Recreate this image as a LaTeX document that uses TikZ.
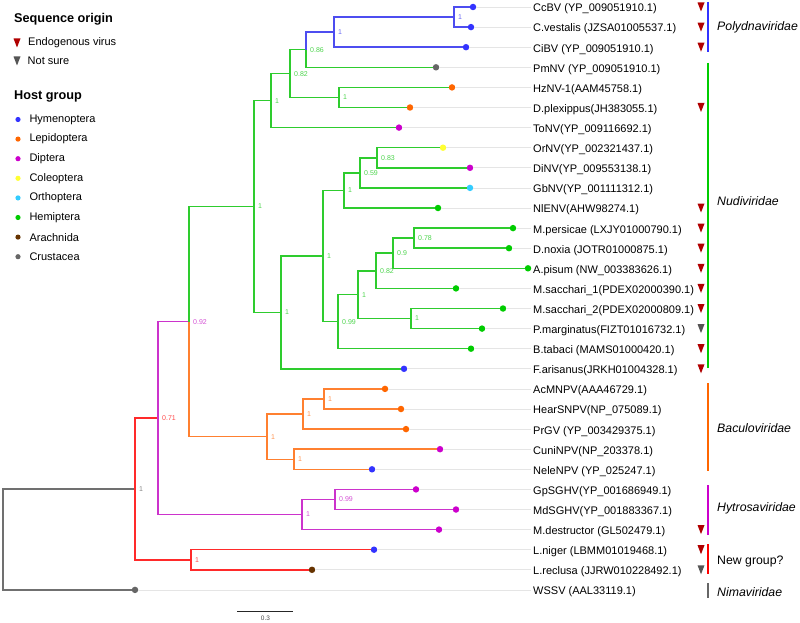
\documentclass[tikz,border=0pt]{standalone}
\usepackage{fontspec}
\setmainfont{Liberation Sans}

% host colours (tip dots)
\definecolor{hyme}{HTML}{3333FF}
\definecolor{lepi}{HTML}{FF6600}
\definecolor{dipt}{HTML}{CC00CC}
\definecolor{cole}{HTML}{FFFF33}
\definecolor{orth}{HTML}{33CCFF}
\definecolor{hemi}{HTML}{00CC00}
\definecolor{arac}{HTML}{663300}
\definecolor{crus}{HTML}{666666}
% sequence origin
\definecolor{endo}{HTML}{B00000}
\definecolor{unsure}{HTML}{555555}
% clade colours (branches)
\definecolor{cPoly}{HTML}{4D4DF0}
\definecolor{cNudi}{HTML}{2ECC2E}
\definecolor{cBacu}{HTML}{FF8030}
\definecolor{cHytr}{HTML}{CC33CC}
\definecolor{cNew}{HTML}{FF2A2A}
\definecolor{cNima}{HTML}{707070}

\begin{document}
\begin{tikzpicture}[x=1pt, y=-1pt,
    branch/.style={line width=1.5pt},
    leader/.style={draw=black!10, line width=0.7pt},
    tipdot/.style={circle, inner sep=0pt, minimum size=6.5pt},
    legdot/.style={circle, inner sep=0pt, minimum size=5.2pt},
    tiplabel/.style={anchor=base west, inner sep=0pt, font=\fontsize{11}{13}\selectfont},
    support/.style={anchor=west, inner sep=0pt, xshift=4pt, font=\fontsize{7}{8}\selectfont},
    famlabel/.style={anchor=west, inner sep=0pt, font=\fontsize{12.3}{14}\selectfont\itshape},
    header/.style={anchor=west, inner sep=0pt, font=\fontsize{12.7}{15}\selectfont\bfseries},
    legtext/.style={anchor=west, inner sep=0pt, font=\fontsize{11}{13}\selectfont},
    downtri/.pic={\fill (-3.5,-4.5) -- (3.5,-4.5) -- (0,4.5) -- cycle;}]
    \path[use as bounding box] (0,0) rectangle (800,623);

    % Legend
    \node[header] (seqhead) at (14,19) {Sequence origin};
    \pic[endo] at (17,43) {downtri};
    \node[legtext] (endolab) at (28,43) {Endogenous virus};
    \pic[unsure] at (17,61) {downtri};
    \node[legtext] (unsurelab) at (27.5,61) {Not sure};
    \node[header] (hosthead) at (14,96.5) {Host group};
    \foreach \hc/\txt [count=\i] in {hyme/Hymenoptera, lepi/Lepidoptera,
        dipt/Diptera, cole/Coleoptera, orth/Orthoptera, hemi/Hemiptera,
        arac/Arachnida, crus/Crustacea}
    {
      \node[legdot, fill=\hc] (d\i) at (18,{119.5+19.6*(\i-1)}) {};
      \node[legtext] (h\i) at (29.3,{119.5+19.6*(\i-1)}) {\txt};
    }

    % Tips
    \foreach \nm/\yy/\xx/\hc/\txt in {
    CcBV/0/473/hyme/CcBV (YP\_009051910.1),
    Cv/1/471/hyme/C.vestalis (JZSA01005537.1),
    CiBV/2/466/hyme/CiBV (YP\_009051910.1),
    PmNV/3/436/crus/PmNV (YP\_009051910.1),
    HzNV/4/452/lepi/HzNV-1(AAM45758.1),
    Dp/5/410/lepi/D.plexippus(JH383055.1),
    ToNV/6/399/dipt/ToNV(YP\_009116692.1),
    OrNV/7/443/cole/OrNV(YP\_002321437.1),
    DiNV/8/470/dipt/DiNV(YP\_009553138.1),
    GbNV/9/470/orth/GbNV(YP\_001111312.1),
    NlENV/10/438/hemi/NlENV(AHW98274.1),
    Mp/11/513/hemi/M.persicae (LXJY01000790.1),
    Dn/12/509/hemi/D.noxia (JOTR01000875.1),
    Ap/13/528/hemi/A.pisum (NW\_003383626.1),
    Msa/14/456/hemi/M.sacchari\_1(PDEX02000390.1),
    Msb/15/503/hemi/M.sacchari\_2(PDEX02000809.1),
    Pmg/16/482/hemi/P.marginatus(FIZT01016732.1),
    Bt/17/471/hemi/B.tabaci (MAMS01000420.1),
    Fa/18/404/hyme/F.arisanus(JRKH01004328.1),
    AcMNPV/19/385/lepi/AcMNPV(AAA46729.1),
    HearSNPV/20/401/lepi/HearSNPV(NP\_075089.1),
    PrGV/21/406/lepi/PrGV (YP\_003429375.1),
    CuniNPV/22/440/dipt/CuniNPV(NP\_203378.1),
    NeleNPV/23/372/hyme/NeleNPV (YP\_025247.1),
    GpSGHV/24/416/dipt/GpSGHV(YP\_001686949.1),
    MdSGHV/25/456/dipt/MdSGHV(YP\_001883367.1),
    Md/26/439/dipt/M.destructor (GL502479.1),
    Ln/27/374/hyme/L.niger (LBMM01019468.1),
    Lr/28/312/arac/L.reclusa (JJRW010228492.1),
    WSSV/29/135/crus/WSSV (AAL33119.1)}
    {
      \node[tipdot, fill=\hc] (t\nm) at (\xx,{7+20.1*\yy}) {};
      \node[tiplabel] (l\nm) at (533,{11.9+20.1*\yy}) {\txt};
      \draw[leader] (t\nm) -- ([xshift=-2pt]t\nm -| l\nm.west);
    }

    % Inner nodes
    \foreach \nd/\xx/\yy in {
    root/3/539.4, n1/135/488.9, n2/158/418.1, n3/189/321.6,
    n4/254/206.5, n5/271/100.6, n6/290/73.6, n7/306/49.7,
    n8/334/32.1, n9/454/17.05, n10/339/97.45, n11/281/312.4,
    n12/323/256.05, n13/344/190.4, n14/360/172.8, n15/377/157.75,
    n16/338/321.7, n17/358/294.7, n18/376/270.8, n19/393/253.2,
    n20/414/238.15, n21/411/318.55,
    b1/267/436.6, b2/303/414.0, b3/324/398.95, b4/294/459.25,
    h1/302/514.5, h2/335/499.45, g1/191/559.75}
    {
      \coordinate (\nd) at (\xx,\yy);
    }

    % Branches
    \foreach \pa/\ch/\cl in {
    root/n1/cNima, root/tWSSV/cNima,
    n1/n2/cNew, n1/g1/cNew, g1/tLn/cNew, g1/tLr/cNew,
    n2/n3/cHytr, n2/h1/cHytr, h1/h2/cHytr, h1/tMd/cHytr,
    h2/tGpSGHV/cHytr, h2/tMdSGHV/cHytr,
    n3/n4/cNudi, n3/b1/cBacu,
    b1/b2/cBacu, b1/b4/cBacu, b2/b3/cBacu, b2/tPrGV/cBacu,
    b3/tAcMNPV/cBacu, b3/tHearSNPV/cBacu, b4/tCuniNPV/cBacu, b4/tNeleNPV/cBacu,
    n4/n5/cNudi, n4/n11/cNudi, n5/n6/cNudi, n5/tToNV/cNudi,
    n6/n7/cNudi, n6/n10/cNudi, n7/n8/cPoly, n7/tPmNV/cNudi,
    n8/n9/cPoly, n8/tCiBV/cPoly, n9/tCcBV/cPoly, n9/tCv/cPoly,
    n10/tHzNV/cNudi, n10/tDp/cNudi,
    n11/n12/cNudi, n11/tFa/cNudi, n12/n13/cNudi, n12/n16/cNudi,
    n13/n14/cNudi, n13/tNlENV/cNudi, n14/n15/cNudi, n14/tGbNV/cNudi,
    n15/tOrNV/cNudi, n15/tDiNV/cNudi,
    n16/n17/cNudi, n16/tBt/cNudi, n17/n18/cNudi, n17/n21/cNudi,
    n18/n19/cNudi, n18/tMsa/cNudi, n19/n20/cNudi, n19/tAp/cNudi,
    n20/tMp/cNudi, n20/tDn/cNudi, n21/tMsb/cNudi, n21/tPmg/cNudi}
    {
      \draw[branch, \cl] (\pa) |- (\ch);
    }

    % Support values
    \foreach \nd/\val/\cl in {
    n1/1/cNima, n2/0.71/cNew, n3/0.92/cHytr, g1/1/cNew,
    h1/1/cHytr, h2/0.99/cHytr,
    b1/1/cBacu, b2/1/cBacu, b3/1/cBacu, b4/1/cBacu,
    n8/1/cPoly, n9/1/cPoly,
    n4/1/cNudi, n5/1/cNudi, n6/0.82/cNudi, n7/0.86/cNudi, n10/1/cNudi,
    n11/1/cNudi, n12/1/cNudi, n13/1/cNudi, n14/0.59/cNudi, n15/0.83/cNudi,
    n16/0.99/cNudi, n17/1/cNudi, n18/0.82/cNudi, n19/0.9/cNudi,
    n20/0.78/cNudi, n21/1/cNudi}
    {
      \node[support, text=\cl!85!white] (s\nd) at (\nd) {\val};
    }

    % Sequence origin marks
    \foreach \yy/\mk in {0/endo, 1/endo, 2/endo, 5/endo, 10/endo, 11/endo,
        12/endo, 13/endo, 14/endo, 15/endo, 16/unsure, 17/endo, 18/endo,
        26/endo, 27/endo, 28/unsure}
    {
      \pic[\mk] at (701,{7+20.1*\yy}) {downtri};
    }

    % Families
    \foreach \ya/\yb/\cl in {2/52/hyme, 63/368/hemi, 383/471/lepi,
        485/535/dipt, 544/574/red, 583/598/crus}
    {
      \draw[\cl, line width=1.6pt] (708,\ya) -- (708,\yb);
    }
    \node[famlabel] (poly) at (717,27.5) {Polydnaviridae};
    \node[famlabel] (nudi) at (717,201) {Nudiviridae};
    \node[famlabel] (bacu) at (717,428) {Baculoviridae};
    \node[famlabel] (hytr) at (717,508) {Hytrosaviridae};
    \node[famlabel, font=\fontsize{12.3}{14}\selectfont] (newg) at (717,561) {New group?};
    \node[famlabel] (nima) at (717,592) {Nimaviridae};

    % Scale
    \draw[black!85, line width=0.8pt] (237,611.5) -- (293,611.5);
    \node[font=\fontsize{6.5}{7}\selectfont, text=black!70] (scale) at (265.5,618.5) {0.3};
  \end{tikzpicture}
\end{document}
